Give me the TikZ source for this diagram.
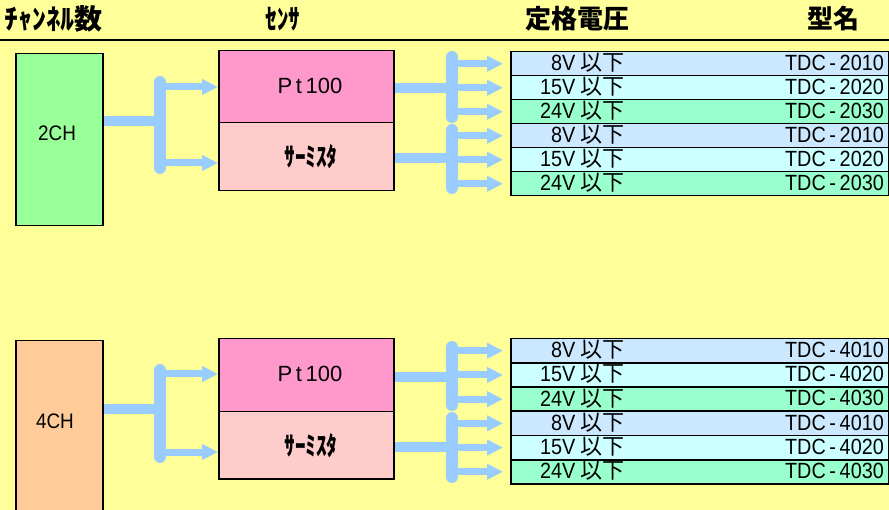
\documentclass[tikz,border=0pt]{standalone}
\usepackage{fontspec}
\setmainfont{Liberation Sans}
\newfontfamily\jp{Noto Sans CJK JP}
\newfontfamily\jpn[FakeStretch=0.82]{Noto Sans CJK JP}
\newfontfamily\cond[FakeStretch=0.9]{Liberation Sans}
\usetikzlibrary{arrows.meta}
\definecolor{bgy}{HTML}{FFFF99}
\definecolor{chg}{HTML}{99FF99}
\definecolor{cho}{HTML}{FFCC99}
\definecolor{ptc}{HTML}{FF99CC}
\definecolor{thc}{HTML}{FFCCCC}
\definecolor{rowa}{HTML}{CCE8FF}
\definecolor{rowb}{HTML}{CCFFFF}
\definecolor{rowc}{HTML}{99FFCC}
\definecolor{flow}{HTML}{99CCFF}
\begin{document}
\begin{tikzpicture}[x=1pt,y=-1pt,
  box/.style={draw=black, line width=1.5pt, inner sep=0pt, anchor=north west},
  rowbox/.style={box, minimum width=378pt, minimum height=24pt},
  hdr/.style={inner sep=0pt, font=\jp\bfseries\fontsize{26}{27}\selectfont},
  rtxt/.style={inner sep=0pt, anchor=east, font=\cond\fontsize{22}{23}\selectfont},
  lbl/.style={inner sep=0pt, font=\cond\fontsize{21}{22}\selectfont},
  mainline/.style={draw=flow, line width=10pt},
  bar/.style={draw=flow, line width=12pt, line cap=round},
  arr/.style={draw=flow, line width=7pt, -{Triangle[length=16pt,width=15pt]}},
]
\clip (0,0) rectangle (889,510);
\fill[bgy] (0,0) rectangle (889,510);

% headers
\node[hdr, font=\jp\bfseries\fontsize{28}{29}\selectfont] (h1) at (54,19) {ﾁｬﾝﾈﾙ数};
\node[hdr, font=\jpn\bfseries\fontsize{28}{29}\selectfont] (h2) at (283,19) {ｾﾝｻ};
\node[hdr] (h3) at (577,19) {定格電圧};
\node[hdr] (h4) at (833,19) {型名};
\draw[line width=2pt] (0,40) -- (889,40);

% ===== top section =====
\node[box, fill=chg, minimum width=87pt, minimum height=172pt] (ch2) at (15,53) {};
\node[lbl] (ch2l) at (57,133) {2CH};
\node[box, fill=ptc, minimum width=175pt, minimum height=72pt] (pt2) at (218,50) {};
\node[inner sep=0pt, font=\fontsize{22}{23}\selectfont] (pt2l) at (310,86) {P\,t\,100};
\node[box, fill=thc, minimum width=175pt, minimum height=68pt] (th2) at (218,122) {};
\node[inner sep=0pt, font=\jpn\bfseries\fontsize{26}{27}\selectfont] (th2l) at (311,157) {ｻｰﾐｽﾀ};

\foreach \i/\v/\m/\c in {1/8V/2010/rowa,2/15V/2020/rowb,3/24V/2030/rowc,4/8V/2010/rowa,5/15V/2020/rowb,6/24V/2030/rowc}{
  \node[rowbox, fill=\c] (t\i) at (510,{51+24*(\i-1)}) {};
  \node[rtxt] (tv\i) at (625,{63+24*(\i-1)}) {\v\ {\jp 以下}};
  \node[rtxt] (tm\i) at (884,{63+24*(\i-1)}) {TDC\,-\,\m};
}

% left connectors top
\coordinate (s2) at (160,121);
\coordinate (s2a) at (160,82);
\coordinate (s2b) at (160,168);
\coordinate (s2p) at (160,87);
\coordinate (s2t) at (160,163);
\draw[mainline] (ch2.east |- s2) -- (s2);
\draw[bar] (s2a) -- (s2b);
\draw[arr] (s2p) -- (pt2.west |- s2p);
\draw[arr] (s2t) -- (th2.west |- s2t);

% right connectors top
\coordinate (p2) at (452,88);
\coordinate (p2a) at (452,57);
\coordinate (p2b) at (452,117);
\coordinate (q2) at (452,158);
\coordinate (q2a) at (452,130);
\coordinate (q2b) at (452,188);
\draw[mainline] (pt2.east |- p2) -- (p2);
\draw[mainline] (th2.east |- q2) -- (q2);
\draw[bar] (p2a) -- (p2b);
\draw[bar] (q2a) -- (q2b);
\foreach \i in {1,2,3}{\draw[arr] (p2 |- t\i.west) -- ([xshift=-7pt]t\i.west);}
\foreach \i in {4,5,6}{\draw[arr] (q2 |- t\i.west) -- ([xshift=-7pt]t\i.west);}

% ===== bottom section =====
\node[box, fill=cho, minimum width=87pt, minimum height=172pt] (ch4) at (15,340) {};
\node[lbl] (ch4l) at (55,421) {4CH};
\node[box, fill=ptc, minimum width=175pt, minimum height=73pt] (pt4) at (218,338) {};
\node[inner sep=0pt, font=\fontsize{22}{23}\selectfont] (pt4l) at (310,374) {P\,t\,100};
\node[box, fill=thc, minimum width=175pt, minimum height=67pt] (th4) at (218,411) {};
\node[inner sep=0pt, font=\jpn\bfseries\fontsize{26}{27}\selectfont] (th4l) at (311,446) {ｻｰﾐｽﾀ};

\foreach \i/\v/\m/\c in {1/8V/4010/rowa,2/15V/4020/rowb,3/24V/4030/rowc,4/8V/4010/rowa,5/15V/4020/rowb,6/24V/4030/rowc}{
  \node[rowbox, fill=\c] (b\i) at (510,{338+24.2*(\i-1)}) {};
  \node[rtxt] (bv\i) at (625,{350+24.2*(\i-1)}) {\v\ {\jp 以下}};
  \node[rtxt] (bm\i) at (884,{350+24.2*(\i-1)}) {TDC\,-\,\m};
}

% left connectors bottom
\coordinate (s4) at (160,409);
\coordinate (s4a) at (160,370);
\coordinate (s4b) at (160,457);
\coordinate (s4p) at (160,374);
\coordinate (s4t) at (160,452);
\draw[mainline] (ch4.east |- s4) -- (s4);
\draw[bar] (s4a) -- (s4b);
\draw[arr] (s4p) -- (pt4.west |- s4p);
\draw[arr] (s4t) -- (th4.west |- s4t);

% right connectors bottom
\coordinate (p4) at (452,377);
\coordinate (p4a) at (452,347);
\coordinate (p4b) at (452,405);
\coordinate (q4) at (452,447);
\coordinate (q4a) at (452,418);
\coordinate (q4b) at (452,477);
\draw[mainline] (pt4.east |- p4) -- (p4);
\draw[mainline] (th4.east |- q4) -- (q4);
\draw[bar] (p4a) -- (p4b);
\draw[bar] (q4a) -- (q4b);
\foreach \i in {1,2,3}{\draw[arr] (p4 |- b\i.west) -- ([xshift=-7pt]b\i.west);}
\foreach \i in {4,5,6}{\draw[arr] (q4 |- b\i.west) -- ([xshift=-7pt]b\i.west);}
\end{tikzpicture}
\end{document}
